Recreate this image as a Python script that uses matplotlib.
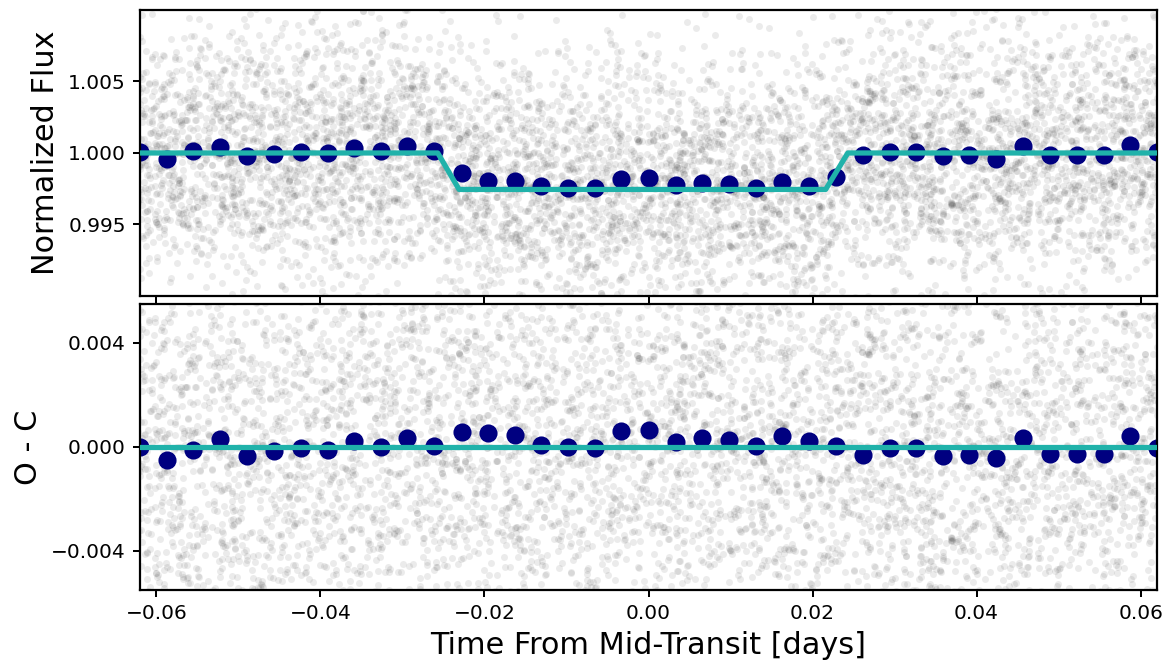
import numpy as np
import matplotlib
matplotlib.use('Agg')
import matplotlib.pyplot as plt

# binned points
bin_time = [-0.0620, -0.0587, -0.0555, -0.0522, -0.0489, -0.0457, -0.0424, -0.0391,
            -0.0359, -0.0326, -0.0294, -0.0261, -0.0228, -0.0196, -0.0163, -0.0131,
            -0.0098, -0.0065, -0.0033, 0.0000, 0.0033, 0.0065, 0.0098, 0.0131,
            0.0163, 0.0196, 0.0228, 0.0261, 0.0294, 0.0326, 0.0359, 0.0391,
            0.0424, 0.0457, 0.0489, 0.0522, 0.0555, 0.0587, 0.0620]

bin_flux = [1.00007, 0.99956, 1.00012, 1.00042, 0.99977, 0.99996, 1.00005, 1.00000,
            1.00035, 1.00012, 1.00047, 1.00012, 0.99860, 0.99802, 0.99802, 0.99767,
            0.99755, 0.99753, 0.99821, 0.99825, 0.99774, 0.99790, 0.99781, 0.99755,
            0.99797, 0.99769, 0.99832, 0.99984, 1.00007, 1.00007, 0.99977, 0.99984,
            0.99961, 1.00047, 0.99989, 0.99984, 0.99984, 1.00059, 1.00007]

bin_resid = [0.00000, -0.00050, -0.00010, 0.00030, -0.00033, -0.00014, -0.00004, -0.00013,
             0.00024, 0.00000, 0.00036, 0.00005, 0.00059, 0.00054, 0.00045, 0.00008,
             0.00000, -0.00004, 0.00061, 0.00066, 0.00018, 0.00033, 0.00028, 0.00003,
             0.00043, 0.00024, 0.00005, -0.00031, -0.00005, -0.00004, -0.00033, -0.00030,
             -0.00043, 0.00036, -0.00027, -0.00027, -0.00027, 0.00043, -0.00004]

# transit model (trapezoid corners)
model_time = [-0.0625, -0.0257, -0.0231, 0.0216, 0.0243, 0.0625]
model_flux = [1.0, 1.0, 0.99745, 0.99745, 1.0, 1.0]

# raw unbinned cloud: too many points to read, so scatter them round each bin
rng = np.random.default_rng(3)
raw_t = []
raw_r = []
half = 0.00326 / 2
for t, r in zip(bin_time, bin_resid):
    n = 170
    tt = rng.uniform(t - half, t + half, n)
    nn = rng.normal(0, 0.0046, n)
    nn = nn - nn.mean()
    raw_t.append(tt)
    raw_r.append(r + nn)
raw_t = np.concatenate(raw_t)
raw_r = np.concatenate(raw_r)
raw_f = np.interp(raw_t, model_time, model_flux) + raw_r

fig = plt.figure(figsize=(1166 / 145, 665 / 145), dpi=145)
ax1 = fig.add_axes([0.1201, 0.5549, 0.8722, 0.4301])
ax2 = fig.add_axes([0.1201, 0.1128, 0.8722, 0.4301])

ax1.scatter(raw_t, raw_f, s=12, color='k', alpha=0.08, lw=0, zorder=1)
ax1.plot(bin_time, bin_flux, 'o', color='navy', ms=8, zorder=2)
ax1.plot(model_time, model_flux, color='lightseagreen', lw=2.6, zorder=3)
ax1.set_xlim(-0.062, 0.062)
ax1.set_ylim(0.990, 1.010)
ax1.set_yticks([0.995, 1.000, 1.005])
ax1.set_xticks([-0.06, -0.04, -0.02, 0.00, 0.02, 0.04, 0.06])
ax1.tick_params(labelbottom=False)
ax1.set_ylabel('Normalized Flux', fontsize=15)

ax2.scatter(raw_t, raw_r, s=12, color='k', alpha=0.08, lw=0, zorder=1)
ax2.plot(bin_time, bin_resid, 'o', color='navy', ms=8, zorder=2)
ax2.axhline(0, color='lightseagreen', lw=2.6, zorder=3)
ax2.set_xlim(-0.062, 0.062)
ax2.set_ylim(-0.0055, 0.0055)
ax2.set_yticks([-0.004, 0.000, 0.004])
ax2.set_xticks([-0.06, -0.04, -0.02, 0.00, 0.02, 0.04, 0.06])
ax2.set_ylabel('O - C', fontsize=15)
ax2.set_xlabel('Time From Mid-Transit [days]', fontsize=15)

for ax in [ax1, ax2]:
    for sp in ax.spines.values():
        sp.set_linewidth(1.1)
    ax.tick_params(width=1.0)

plt.savefig('out.png', dpi=145)
